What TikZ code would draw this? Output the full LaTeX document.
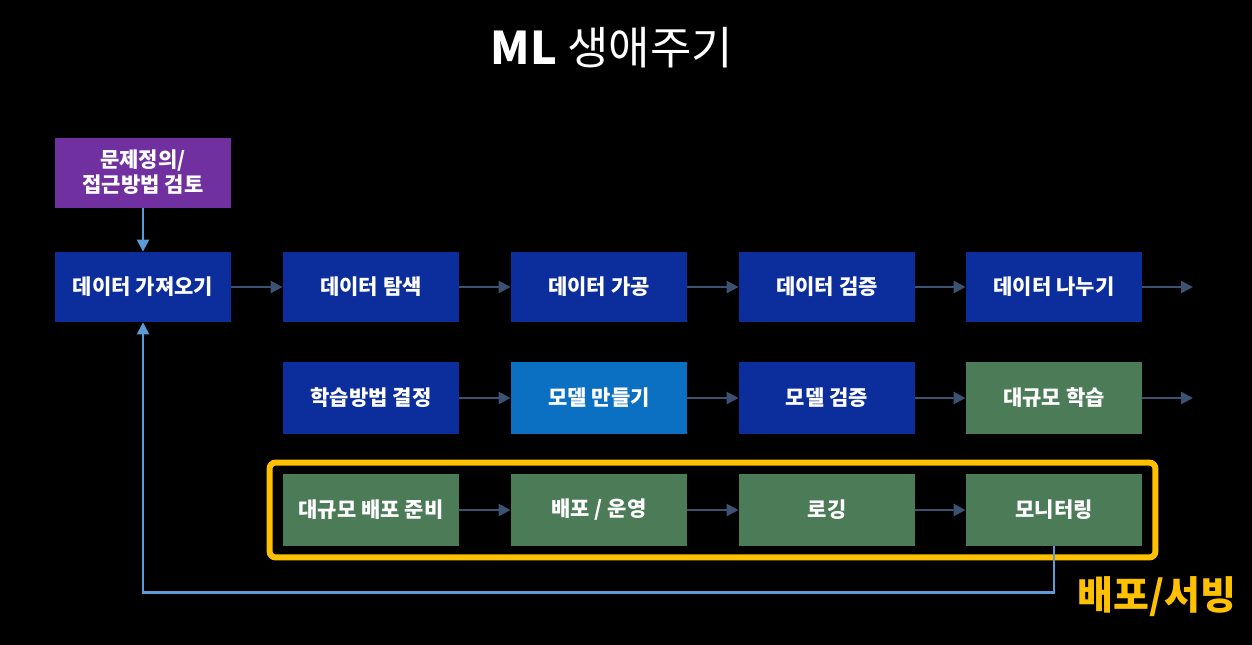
\documentclass[tikz,border=0pt]{standalone}
\usepackage{fontspec}
\newfontfamily\kr{Noto Sans CJK KR}
\usetikzlibrary{arrows.meta,fit}
\definecolor{navy}{HTML}{0C2D9C}
\definecolor{lightblu}{HTML}{0B6FC2}
\definecolor{purp}{HTML}{7030A0}
\definecolor{grn}{HTML}{4B7B57}
\definecolor{arrblu}{HTML}{3C5273}
\definecolor{fbblu}{HTML}{5C9BD5}
\definecolor{gold}{HTML}{FFC000}
\tikzset{
  stage/.style={minimum width=88pt,minimum height=35pt,inner sep=0pt,
    text=white,font=\kr\bfseries\fontsize{10.5}{12.5}\selectfont,align=center},
  flow/.style={draw=arrblu,line width=1.3pt,-{Triangle[length=6pt,width=6pt]}},
  back/.style={draw=fbblu,line width=1.2pt,-{Triangle[length=6pt,width=6pt]}}
}

\begin{document}
\begin{tikzpicture}[x=0.5pt,y=-0.5pt]
\useasboundingbox (0,0) rectangle (1252,644);
\fill[black] (-4,-4) rectangle (1256,648);
\node[text=white,font=\kr\fontsize{22.5}{26}\selectfont] (title) at (612,48) {\textbf{ML} 생애주기};
\node[stage,fill=purp] (prob) at (143,172.5) {문제정의/\\접근방법 검토};
% data row
\node[stage,fill=navy] (get) at (143,287) {데이터 가져오기};
\node[stage,fill=navy] (explore) at (371,287) {데이터 탐색};
\node[stage,fill=navy] (process) at (599,287) {데이터 가공};
\node[stage,fill=navy] (check) at (827,287) {데이터 검증};
\node[stage,fill=navy] (split) at (1054,287) {데이터 나누기};
\coordinate (out1) at (1193,287);
% model row
\node[stage,fill=navy,minimum height=36pt] (method) at (371,398) {학습방법 결정};
\node[stage,fill=lightblu,minimum height=36pt] (build) at (599,398) {모델 만들기};
\node[stage,fill=navy,minimum height=36pt] (valid) at (827,398) {모델 검증};
\node[stage,fill=grn,minimum height=36pt] (train) at (1054,398) {대규모 학습};
\coordinate (out2) at (1193,398);
% serving row
\node[stage,fill=grn,minimum height=36pt] (prep) at (371,510) {대규모 배포 준비};
\node[stage,fill=grn,minimum height=36pt] (deploy) at (599,510) {배포 / 운영};
\node[stage,fill=grn,minimum height=36pt] (log) at (827,510) {로깅};
\node[stage,fill=grn,minimum height=36pt] (mon) at (1054,510) {모니터링};
\node[draw=gold,line width=3pt,rounded corners=3pt,inner xsep=6.5pt,inner ysep=5.5pt,fit=(prep)(mon)] (serving) {};
\node[text=gold,font=\kr\bfseries\fontsize{19.5}{23}\selectfont] (servlbl) at (1157,597) {배포/서빙};
\path[back] (prob) -- (get);
\path[flow] (get) -- (explore); \path[flow] (explore) -- (process);
\path[flow] (process) -- (check); \path[flow] (check) -- (split);
\path[flow] (split) -- (out1);
\path[flow] (method) -- (build); \path[flow] (build) -- (valid);
\path[flow] (valid) -- (train); \path[flow] (train) -- (out2);
\path[flow] (prep) -- (deploy); \path[flow] (deploy) -- (log);
\path[flow] (log) -- (mon);
\path[back] (mon.south) -- ++(0,46) -| (get.south);
\end{tikzpicture}
\end{document}
